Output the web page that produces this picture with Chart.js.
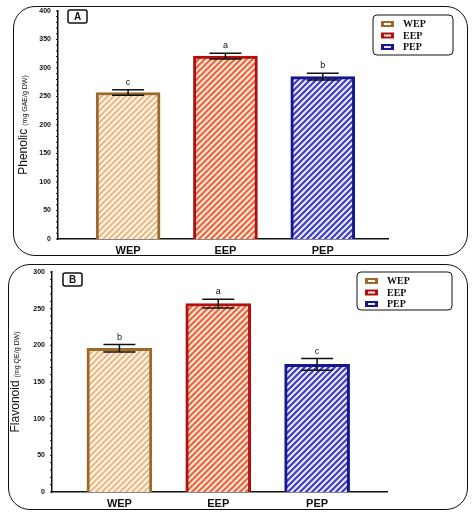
<!DOCTYPE html>
<html><head><meta charset="utf-8">
<script src="https://cdn.jsdelivr.net/npm/chart.js@4"></script>
<style>
body{margin:0;background:#fff;width:474px;height:516px;position:relative;overflow:hidden}
.frame{position:absolute;border:1.5px solid #111;border-radius:22px}
canvas{position:absolute;left:0}
</style></head><body>
<div class="frame" style="left:13px;top:6px;width:453px;height:248px"></div>
<div class="frame" style="left:8px;top:264px;width:458px;height:244px"></div>
<canvas id="cA" style="top:0" width="474" height="258"></canvas>
<canvas id="cB" style="top:258px" width="474" height="258"></canvas>
<script>
const categories=["WEP","EEP","PEP"];
const phenolic=[257,321,285];
const phenolicErr=[5,5,6];
const phenolicLetters=["c","a","b"];
const flavonoid=[196,257,174];
const flavonoidErr=[5,6,8];
const flavonoidLetters=["b","a","c"];
const borderCols=["#9a6a2c","#b0100e","#16168e"];
const lineCols=["#eab984","#ee6236","#3a3ac4"];
const bgCols=["#fdf3e8","#fde6dc","#e8e8fa"];

function hatch(bg,line){
  const c=document.createElement('canvas');c.width=6;c.height=6;const g=c.getContext('2d');
  g.fillStyle=bg;g.fillRect(0,0,6,6);g.strokeStyle=line;g.lineWidth=2;
  g.beginPath();g.moveTo(-1,7);g.lineTo(7,-1);g.moveTo(-1,1);g.lineTo(1,-1);g.moveTo(5,7);g.lineTo(7,5);g.stroke();
  return g.createPattern(c,'repeat');
}

function make(id,vals,errs,letters,cfg){
  const pats=categories.map((_,i)=>hatch(bgCols[i],lineCols[i]));
  const extra={id:'extra',afterDatasetsDraw(ch){
    const g=ch.ctx,x=ch.scales.x,y=ch.scales.y;
    g.save();g.strokeStyle='#111';g.lineWidth=1.5;g.fillStyle='#111';
    vals.forEach((v,i)=>{
      const cx=x.getPixelForValue(i+1),t=y.getPixelForValue(v+errs[i]),b=y.getPixelForValue(v-errs[i]);
      g.beginPath();g.moveTo(cx,t);g.lineTo(cx,b);g.moveTo(cx-16,t);g.lineTo(cx+16,t);g.moveTo(cx-16,b);g.lineTo(cx+16,b);g.stroke();
      g.font='9px Arial';g.textAlign='center';g.textBaseline='bottom';g.fillText(letters[i],cx,t-3);
    });
    g.lineWidth=1;
    for(let k=0;k<=cfg.max;k+=cfg.minor){const py=y.getPixelForValue(k);g.beginPath();g.moveTo(x.left-2,py);g.lineTo(x.left,py);g.stroke();}
    g.lineWidth=1.5;const bx=cfg.box[0],by=cfg.box[1];
    g.beginPath();g.roundRect(bx,by,19,13,2);g.stroke();
    g.font='bold 10px Arial';g.textAlign='center';g.textBaseline='middle';g.fillText(cfg.label,bx+9.5,by+7);
    const [lx,ly,lw,lh]=cfg.leg;
    g.lineWidth=1;g.beginPath();g.roundRect(lx,ly,lw,lh,4);g.stroke();
    categories.forEach((c,i)=>{
      const ry=ly+9+i*11.5;
      g.fillStyle=borderCols[i];g.fillRect(lx+8,ry-3,13,6);
      g.fillStyle=bgCols[i];g.fillRect(lx+11,ry-1,7,2);
      g.fillStyle='#111';g.font='bold 10px "Liberation Serif"';g.textAlign='left';g.textBaseline='middle';
      g.fillText(c,lx+30,ry+0.5);
    });
    g.translate(cfg.tx,(y.top+y.bottom)/2);g.rotate(-Math.PI/2);
    g.font='12px "Liberation Sans Narrow", Arial';const w1=g.measureText(cfg.title).width;
    g.font='7px Arial';const w2=g.measureText(cfg.sub).width;
    let sx=-(w1+w2+3)/2;
    g.font='12px "Liberation Sans Narrow", Arial';g.textAlign='left';g.textBaseline='middle';g.fillText(cfg.title,sx,0);
    g.font='7px Arial';g.fillText(cfg.sub,sx+w1+3,1.5);
    g.restore();
  }};
  new Chart(document.getElementById(id),{
    type:'bar',
    data:{datasets:[{data:vals.map((v,i)=>({x:i+1,y:v})),backgroundColor:pats,borderColor:borderCols,borderWidth:3,barThickness:cfg.bw}]},
    options:{responsive:false,animation:false,
      layout:{padding:{top:cfg.top,right:cfg.right,left:0,bottom:0}},
      plugins:{legend:{display:false},tooltip:{enabled:false}},
      scales:{
        x:{type:'linear',min:cfg.xmin,max:cfg.xmax,offset:false,bounds:'ticks',
          afterDataLimits(s){s.min=cfg.xmin;s.max=cfg.xmax;},
          afterBuildTicks(s){s.ticks=[{value:1},{value:2},{value:3}];},
          afterFit(s){s.height=cfg.xh;},
          ticks:{callback:v=>categories[v-1],color:'#111',font:{family:'Arial',weight:'bold',size:11},padding:2},
          grid:{display:false,offset:false,drawTicks:true,tickLength:3,color:'#111'},border:{color:'#111',width:1.5}},
        y:{min:0,max:cfg.max,
          afterFit(s){s.width=cfg.yw;},
          ticks:{stepSize:cfg.step,color:'#111',font:{family:'Arial',weight:'bold',size:7},padding:3},
          grid:{display:false,drawTicks:true,tickLength:4,color:'#111'},border:{color:'#111',width:1.5}}
      }},
    plugins:[extra]
  });
}
make('cA',phenolic,phenolicErr,phenolicLetters,{bw:64,xmin:0.28,xmax:3.67,top:11,right:86,xh:19,yw:58,max:400,step:50,minor:10,
  label:'A',box:[68,10],leg:[373,15,80,40],tx:24,title:'Phenolic',sub:'(mg GAE/g DW)'});
make('cB',flavonoid,flavonoidErr,flavonoidLetters,{bw:65,xmin:0.318,xmax:3.707,top:14,right:87,xh:24,yw:52,max:300,step:50,minor:10,
  label:'B',box:[63,15],leg:[357,14,95,38],tx:16,title:'Flavonoid',sub:'(mg QE/g DW)'});
</script></body></html>
